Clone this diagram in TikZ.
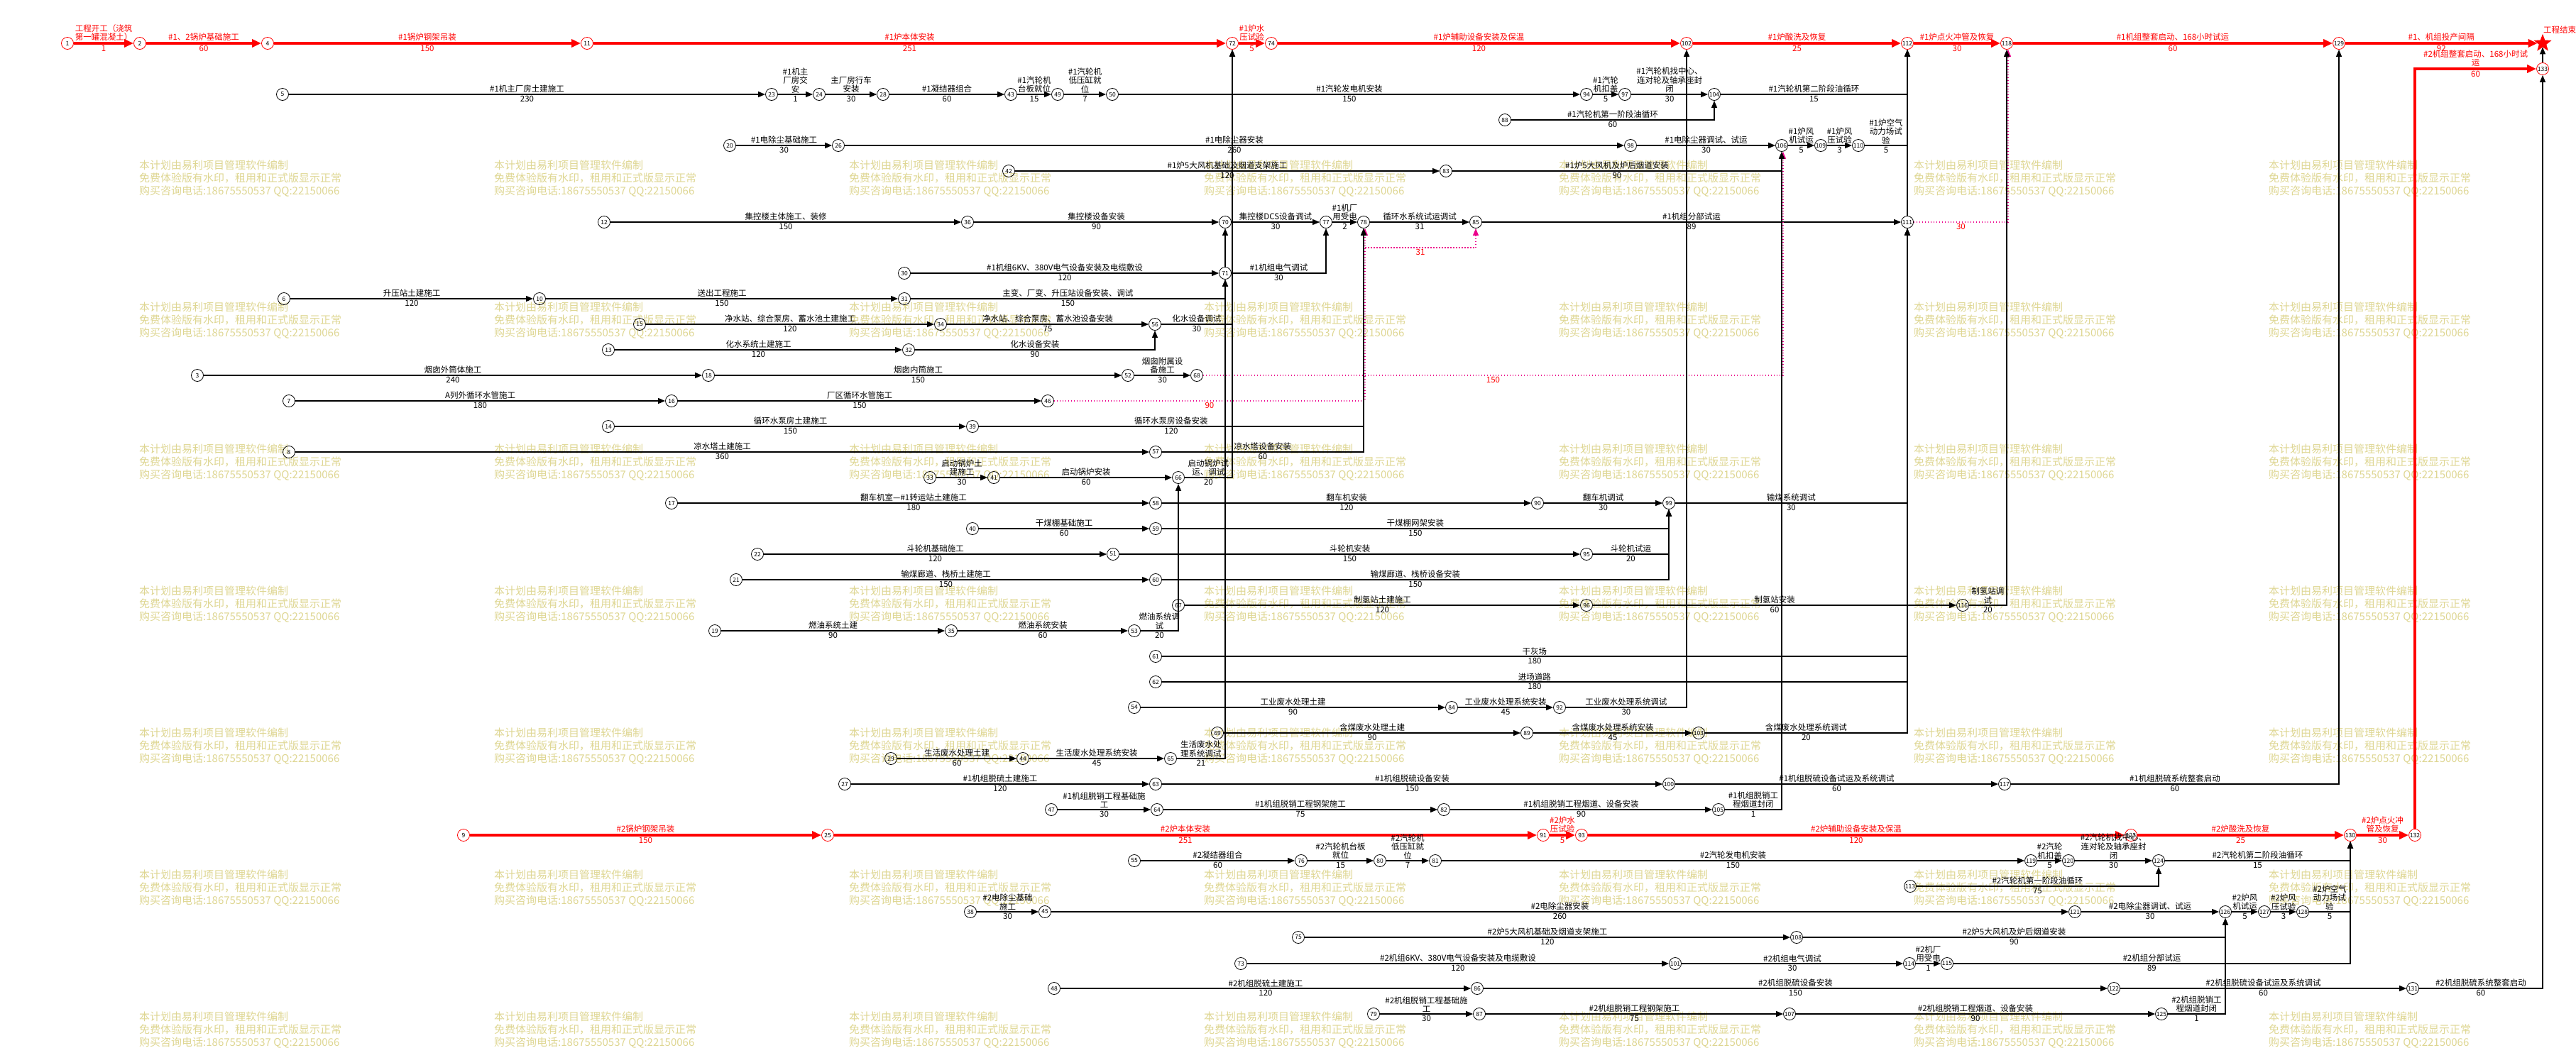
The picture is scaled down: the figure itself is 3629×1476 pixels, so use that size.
\documentclass[tikz,border=0pt]{standalone}
\usepackage{fontspec}
\setmainfont{Noto Sans CJK SC}
\usepackage{tikz}
\usetikzlibrary{arrows.meta,shapes.geometric}
\definecolor{wmark}{RGB}{222,214,146}
\newcommand\lblfont{\fontsize{11.5}{12.5}\selectfont}
\newcommand\numfont{\fontsize{8.5}{9}\selectfont}
\newcommand\wmfont{\fontsize{15}{18}\selectfont}

\begin{document}
\begin{tikzpicture}[x=1pt,y=-1pt]
	\useasboundingbox (0,0) rectangle (3629,1476);

	\foreach \wx in {196,696,...,3196}
	  \foreach \wy in {226,426,...,1426}
	    \node[anchor=north west,inner sep=0pt,align=left,text=wmark,font=\wmfont] (wm\wx-\wy) at (\wx,\wy)
	      {本计划由易利项目管理软件编制\\免费体验版有水印，租用和正式版显示正常\\购买咨询电话:18675550537 QQ:22150066};

	\begin{scope}[every node/.style={circle,draw,line width=.8pt,minimum size=17pt,inner sep=0pt,font=\numfont}]
	    \node[draw=red] (n1) at (95,61) {1};
	    \node[draw=red] (n2) at (197,61) {2};
	    \node[draw=red] (n4) at (377,61) {4};
	    \node[draw=red] (n11) at (827,61) {11};
	    \node[draw=red] (n72) at (1736,61) {72};
	    \node[draw=red] (n74) at (1791,61) {74};
	    \node[draw=red] (n102) at (2376,61) {102};
	    \node[draw=red] (n112) at (2687,61) {112};
	    \node[draw=red] (n118) at (2827,61) {118};
	    \node[draw=red] (n129) at (3295,61) {129};
	    \node[draw=red] (n133) at (3582,97) {133};
	    \node[star,star points=5,star point ratio=2.4,fill=red,draw=red,minimum size=24pt] (fin) at (3582,61) {};
	    \node[draw=red] (n9) at (653,1177) {9};
	    \node[draw=red] (n25) at (1166,1177) {25};
	    \node[draw=red] (n91) at (2174,1177) {91};
	    \node[draw=red] (n93) at (2228,1177) {93};
	    \node[draw=red] (n123) at (3002,1177) {123};
	    \node[draw=red] (n130) at (3311,1177) {130};
	    \node[draw=red] (n132) at (3402,1177) {132};
	    \node (n5) at (398,133) {5};
	    \node (n23) at (1087,133) {23};
	    \node (n24) at (1154,133) {24};
	    \node (n28) at (1244,133) {28};
	    \node (n43) at (1424,133) {43};
	    \node (n49) at (1490,133) {49};
	    \node (n50) at (1567,133) {50};
	    \node (n94) at (2235,133) {94};
	    \node (n97) at (2289,133) {97};
	    \node (n104) at (2415,133) {104};
	    \node (n88) at (2120,169) {88};
	    \node (n20) at (1028,205) {20};
	    \node (n26) at (1181,205) {26};
	    \node (n98) at (2297,205) {98};
	    \node (n106) at (2510,205) {106};
	    \node (n109) at (2565,205) {109};
	    \node (n110) at (2618,205) {110};
	    \node (n42) at (1421,241) {42};
	    \node (n83) at (2037,241) {83};
	    \node (n12) at (851,313) {12};
	    \node (n36) at (1363,313) {36};
	    \node (n70) at (1726,313) {70};
	    \node (n77) at (1868,313) {77};
	    \node (n78) at (1921,313) {78};
	    \node (n85) at (2079,313) {85};
	    \node (n111) at (2687,313) {111};
	    \node (n30) at (1274,385) {30};
	    \node (n71) at (1726,385) {71};
	    \node (n6) at (400,421) {6};
	    \node (n10) at (760,421) {10};
	    \node (n31) at (1274,421) {31};
	    \node (n15) at (901,457) {15};
	    \node (n34) at (1325,457) {34};
	    \node (n56) at (1627,457) {56};
	    \node (n13) at (857,493) {13};
	    \node (n32) at (1280,493) {32};
	    \node (n3) at (278,529) {3};
	    \node (n18) at (998,529) {18};
	    \node (n52) at (1589,529) {52};
	    \node (n68) at (1686,529) {68};
	    \node (n7) at (407,565) {7};
	    \node (n16) at (946,565) {16};
	    \node (n46) at (1476,565) {46};
	    \node (n14) at (857,601) {14};
	    \node (n39) at (1370,601) {39};
	    \node (n8) at (407,637) {8};
	    \node (n57) at (1628,637) {57};
	    \node (n33) at (1310,673) {33};
	    \node (n41) at (1400,673) {41};
	    \node (n66) at (1660,673) {66};
	    \node (n17) at (946,709) {17};
	    \node (n58) at (1628,709) {58};
	    \node (n90) at (2166,709) {90};
	    \node (n99) at (2351,709) {99};
	    \node (n40) at (1370,745) {40};
	    \node (n59) at (1628,745) {59};
	    \node (n22) at (1067,781) {22};
	    \node (n51) at (1568,781) {51};
	    \node (n95) at (2235,781) {95};
	    \node (n21) at (1037,817) {21};
	    \node (n60) at (1628,817) {60};
	    \node (n67) at (1660,853) {67};
	    \node (n96) at (2235,853) {96};
	    \node (n116) at (2765,853) {116};
	    \node (n19) at (1007,889) {19};
	    \node (n35) at (1340,889) {35};
	    \node (n53) at (1598,889) {53};
	    \node (n61) at (1628,925) {61};
	    \node (n62) at (1628,961) {62};
	    \node (n54) at (1598,997) {54};
	    \node (n84) at (2045,997) {84};
	    \node (n92) at (2197,997) {92};
	    \node (n69) at (1715,1033) {69};
	    \node (n89) at (2151,1033) {89};
	    \node (n103) at (2393,1033) {103};
	    \node (n29) at (1255,1069) {29};
	    \node (n44) at (1441,1069) {44};
	    \node (n65) at (1649,1069) {65};
	    \node (n27) at (1190,1105) {27};
	    \node (n63) at (1628,1105) {63};
	    \node (n100) at (2351,1105) {100};
	    \node (n117) at (2824,1105) {117};
	    \node (n47) at (1481,1141) {47};
	    \node (n64) at (1630,1141) {64};
	    \node (n82) at (2034,1141) {82};
	    \node (n105) at (2421,1141) {105};
	    \node (n55) at (1598,1213) {55};
	    \node (n76) at (1833,1213) {76};
	    \node (n80) at (1944,1213) {80};
	    \node (n81) at (2022,1213) {81};
	    \node (n119) at (2861,1213) {119};
	    \node (n120) at (2914,1213) {120};
	    \node (n124) at (3041,1213) {124};
	    \node (n113) at (2691,1249) {113};
	    \node (n38) at (1367,1285) {38};
	    \node (n45) at (1472,1285) {45};
	    \node (n121) at (2923,1285) {121};
	    \node (n126) at (3135,1285) {126};
	    \node (n127) at (3190,1285) {127};
	    \node (n128) at (3244,1285) {128};
	    \node (n75) at (1829,1321) {75};
	    \node (n108) at (2531,1321) {108};
	    \node (n73) at (1748,1358) {73};
	    \node (n101) at (2360,1358) {101};
	    \node (n114) at (2690,1358) {114};
	    \node (n115) at (2743,1358) {115};
	    \node (n48) at (1485,1393) {48};
	    \node (n86) at (2081,1393) {86};
	    \node (n122) at (2978,1393) {122};
	    \node (n131) at (3399,1393) {131};
	    \node (n79) at (1935,1429) {79};
	    \node (n87) at (2084,1429) {87};
	    \node (n107) at (2521,1429) {107};
	    \node (n125) at (3045,1429) {125};
	\end{scope}

	\node[anchor=west,red,font=\lblfont,inner sep=0pt] (finlbl) at (3583,42) {工程结束};
	\coordinate (d31) at (1923,349);

	\begin{scope}[>={Triangle[length=10pt,width=8pt]},
	              line width=1.2pt,
	              every node/.style={font=\lblfont,inner sep=1.5pt,align=center},
	              every edge/.style={draw=black},
	              crit/.style={red,line width=3.5pt,>={Triangle[length=13pt,width=11pt]}},
	              dummy/.style={magenta,dash pattern=on 1.5pt off 2.5pt}]
	    \path [->] (n1) edge[crit] node[above] {工程开工（浇筑\\第一罐混凝土）} node[below] {1} (n2);
	    \path [->] (n2) edge[crit] node[above] {\#1、2锅炉基础施工} node[below] {60} (n4);
	    \path [->] (n4) edge[crit] node[above] {\#1锅炉钢架吊装} node[below] {150} (n11);
	    \path [->] (n11) edge[crit] node[above] {\#1炉本体安装} node[below] {251} (n72);
	    \path [->] (n72) edge[crit] node[above] {\#1炉水\\压试验} node[below] {5} (n74);
	    \path [->] (n74) edge[crit] node[above] {\#1炉辅助设备安装及保温} node[below] {120} (n102);
	    \path [->] (n102) edge[crit] node[above] {\#1炉酸洗及恢复} node[below] {25} (n112);
	    \path [->] (n112) edge[crit] node[above] {\#1炉点火冲管及恢复} node[below] {30} (n118);
	    \path [->] (n118) edge[crit] node[above] {\#1机组整套启动、168小时试运} node[below] {60} (n129);
	    \path [->] (n129) edge[crit] node[above] {\#1、机组投产间隔} node[below] {92} (fin);
	    \path [->] (n9) edge[crit] node[above] {\#2锅炉钢架吊装} node[below] {150} (n25);
	    \path [->] (n25) edge[crit] node[above] {\#2炉本体安装} node[below] {251} (n91);
	    \path [->] (n91) edge[crit] node[above] {\#2炉水\\压试验} node[below] {5} (n93);
	    \path [->] (n93) edge[crit] node[above] {\#2炉辅助设备安装及保温} node[below] {120} (n123);
	    \path [->] (n123) edge[crit] node[above] {\#2炉酸洗及恢复} node[below] {25} (n130);
	    \path [->] (n130) edge[crit] node[above] {\#2炉点火冲\\管及恢复} node[below] {30} (n132);
	    \draw [->,crit] (n132) |- node[pos=.75,above] {\#2机组整套启动、168小时试\\运} node[pos=.75,below] {60} (n133);
	    \path [->] (n133) edge (fin);

	    \path [->] (n5) edge node[above] {\#1机主厂房土建施工} node[below] {230} (n23);
	    \path [->] (n23) edge node[above] {\#1机主\\厂房交\\安} node[below] {1} (n24);
	    \path [->] (n24) edge node[above] {主厂房行车\\安装} node[below] {30} (n28);
	    \path [->] (n28) edge node[above] {\#1凝结器组合} node[below] {60} (n43);
	    \path [->] (n43) edge node[above] {\#1汽轮机\\台板就位} node[below] {15} (n49);
	    \path [->] (n49) edge node[above] {\#1汽轮机\\低压缸就\\位} node[below] {7} (n50);
	    \path [->] (n50) edge node[above] {\#1汽轮发电机安装} node[below] {150} (n94);
	    \path [->] (n94) edge node[above] {\#1汽轮\\机扣盖} node[below] {5} (n97);
	    \path [->] (n97) edge node[above] {\#1汽轮机找中心、\\连对轮及轴承座封\\闭} node[below] {30} (n104);
	    \draw [->] (n104) -| node[pos=.25,above] {\#1汽轮机第二阶段油循环} node[pos=.25,below] {15} (n112);
	    \draw [->] (n88) -| node[pos=.25,above] {\#1汽轮机第一阶段油循环} node[pos=.25,below] {60} (n104);
	    \path [->] (n20) edge node[above] {\#1电除尘基础施工} node[below] {30} (n26);
	    \path [->] (n26) edge node[above] {\#1电除尘器安装} node[below] {260} (n98);
	    \path [->] (n98) edge node[above] {\#1电除尘器调试、试运} node[below] {30} (n106);
	    \path [->] (n106) edge node[above] {\#1炉风\\机试运} node[below] {5} (n109);
	    \path [->] (n109) edge node[above] {\#1炉风\\压试验} node[below] {3} (n110);
	    \draw [->] (n110) -| node[pos=.25,above] {\#1炉空气\\动力场试\\验} node[pos=.25,below] {5} (n112);
	    \path [->] (n42) edge node[above] {\#1炉5大风机基础及烟道支架施工} node[below] {120} (n83);
	    \draw [->] (n83) -| node[pos=.25,above] {\#1炉5大风机及炉后烟道安装} node[pos=.25,below] {90} (n106);
	    \path [->] (n12) edge node[above] {集控楼主体施工、装修} node[below] {150} (n36);
	    \path [->] (n36) edge node[above] {集控楼设备安装} node[below] {90} (n70);
	    \path [->] (n70) edge node[above] {集控楼DCS设备调试} node[below] {30} (n77);
	    \path [->] (n77) edge node[above] {\#1机厂\\用受电} node[below] {2} (n78);
	    \path [->] (n78) edge node[above] {循环水系统试运调试} node[below] {31} (n85);
	    \path [->] (n85) edge node[above] {\#1机组分部试运} node[below] {89} (n111);
	    \path [->] (n111) edge (n112);
	    \draw [->,dummy] (n111) -| node[pos=.25,below,red] {30} ([xshift=2pt]n118.south);
	    \draw [->,dummy] (d31) -| node[pos=.25,below,red] {31} (n85);
	    \path [->] (n30) edge node[above] {\#1机组6KV、380V电气设备安装及电缆敷设} node[below] {120} (n71);
	    \draw [->] (n71) -| node[pos=.25,above] {\#1机组电气调试} node[pos=.25,below] {30} (n77);
	    \path [->] (n71) edge (n70);
	    \path [->] (n6) edge node[above] {升压站土建施工} node[below] {120} (n10);
	    \path [->] (n10) edge node[above] {送出工程施工} node[below] {150} (n31);
	    \draw [->] (n31) -| node[pos=.25,above] {主变、厂变、升压站设备安装、调试} node[pos=.25,below] {150} (n71);
	    \path [->] (n15) edge node[above] {净水站、综合泵房、蓄水池土建施工} node[below] {120} (n34);
	    \path [->] (n34) edge node[above] {净水站、综合泵房、蓄水池设备安装} node[below] {75} (n56);
	    \draw [->] (n56) -| node[pos=.25,above] {化水设备调试} node[pos=.25,below] {30} (n72);
	    \path [->] (n13) edge node[above] {化水系统土建施工} node[below] {120} (n32);
	    \draw [->] (n32) -| node[pos=.25,above] {化水设备安装} node[pos=.25,below] {90} (n56);
	    \path [->] (n3) edge node[above] {烟囱外筒体施工} node[below] {240} (n18);
	    \path [->] (n18) edge node[above] {烟囱内筒施工} node[below] {150} (n52);
	    \path [->] (n52) edge node[above] {烟囱附属设\\备施工} node[below] {30} (n68);
	    \draw [->,dummy] (n68) -| node[pos=.25,below,red] {150} ([xshift=2pt]n106.south);
	    \path [->] (n7) edge node[above] {A列外循环水管施工} node[below] {180} (n16);
	    \path [->] (n16) edge node[above] {厂区循环水管施工} node[below] {150} (n46);
	    \draw [->,dummy] (n46) -| node[pos=.25,below,red] {90} ([xshift=2pt]n78.south);
	    \path [->] (n14) edge node[above] {循环水泵房土建施工} node[below] {150} (n39);
	    \draw [->] (n39) -| node[pos=.25,above] {循环水泵房设备安装} node[pos=.25,below] {120} (n78);
	    \path [->] (n8) edge node[above] {凉水塔土建施工} node[below] {360} (n57);
	    \draw [->] (n57) -| node[pos=.25,above] {凉水塔设备安装} node[pos=.25,below] {60} (n78);
	    \path [->] (n33) edge node[above] {启动锅炉土\\建施工} node[below] {30} (n41);
	    \path [->] (n41) edge node[above] {启动锅炉安装} node[below] {60} (n66);
	    \draw [->] (n66) -| node[pos=.25,above] {启动锅炉试\\运、调试} node[pos=.25,below] {20} (n72);
	    \path [->] (n17) edge node[above] {翻车机室—\#1转运站土建施工} node[below] {180} (n58);
	    \path [->] (n58) edge node[above] {翻车机安装} node[below] {120} (n90);
	    \path [->] (n90) edge node[above] {翻车机调试} node[below] {30} (n99);
	    \draw [->] (n99) -| node[pos=.25,above] {输煤系统调试} node[pos=.25,below] {30} (n111);
	    \path [->] (n40) edge node[above] {干煤棚基础施工} node[below] {60} (n59);
	    \draw [->] (n59) -| node[pos=.25,above] {干煤棚网架安装} node[pos=.25,below] {150} (n99);
	    \path [->] (n22) edge node[above] {斗轮机基础施工} node[below] {120} (n51);
	    \path [->] (n51) edge node[above] {斗轮机安装} node[below] {150} (n95);
	    \draw [->] (n95) -| node[pos=.25,above] {斗轮机试运} node[pos=.25,below] {20} (n99);
	    \path [->] (n21) edge node[above] {输煤廊道、栈桥土建施工} node[below] {150} (n60);
	    \draw [->] (n60) -| node[pos=.25,above] {输煤廊道、栈桥设备安装} node[pos=.25,below] {150} (n99);
	    \path [->] (n67) edge node[above] {制氢站土建施工} node[below] {120} (n96);
	    \path [->] (n96) edge node[above] {制氢站安装} node[below] {60} (n116);
	    \draw [->] (n116) -| node[pos=.25,above] {制氢站调\\试} node[pos=.25,below] {20} (n118);
	    \path [->] (n19) edge node[above] {燃油系统土建} node[below] {90} (n35);
	    \path [->] (n35) edge node[above] {燃油系统安装} node[below] {60} (n53);
	    \draw [->] (n53) -| node[pos=.25,above] {燃油系统调\\试} node[pos=.25,below] {20} (n66);
	    \draw [->] (n61) -| node[pos=.25,above] {干灰场} node[pos=.25,below] {180} (n111);
	    \draw [->] (n62) -| node[pos=.25,above] {进场道路} node[pos=.25,below] {180} (n111);
	    \path [->] (n54) edge node[above] {工业废水处理土建} node[below] {90} (n84);
	    \path [->] (n84) edge node[above] {工业废水处理系统安装} node[below] {45} (n92);
	    \draw [->] (n92) -| node[pos=.25,above] {工业废水处理系统调试} node[pos=.25,below] {30} (n102);
	    \path [->] (n69) edge node[above] {含煤废水处理土建} node[below] {90} (n89);
	    \path [->] (n89) edge node[above] {含煤废水处理系统安装} node[below] {45} (n103);
	    \draw [->] (n103) -| node[pos=.25,above] {含煤废水处理系统调试} node[pos=.25,below] {20} (n111);
	    \path [->] (n29) edge node[above] {生活废水处理土建} node[below] {60} (n44);
	    \path [->] (n44) edge node[above] {生活废水处理系统安装} node[below] {45} (n65);
	    \draw [->] (n65) -| node[pos=.25,above] {生活废水处\\理系统调试} node[pos=.25,below] {21} (n71);
	    \path [->] (n27) edge node[above] {\#1机组脱硫土建施工} node[below] {120} (n63);
	    \path [->] (n63) edge node[above] {\#1机组脱硫设备安装} node[below] {150} (n100);
	    \path [->] (n100) edge node[above] {\#1机组脱硫设备试运及系统调试} node[below] {60} (n117);
	    \draw [->] (n117) -| node[pos=.25,above] {\#1机组脱硫系统整套启动} node[pos=.25,below] {60} (n129);
	    \path [->] (n47) edge node[above] {\#1机组脱销工程基础施\\工} node[below] {30} (n64);
	    \path [->] (n64) edge node[above] {\#1机组脱销工程钢架施工} node[below] {75} (n82);
	    \path [->] (n82) edge node[above] {\#1机组脱销工程烟道、设备安装} node[below] {90} (n105);
	    \draw [->] (n105) -| node[pos=.25,above] {\#1机组脱销工\\程烟道封闭} node[pos=.25,below] {1} (n106);

	    \path [->] (n55) edge node[above] {\#2凝结器组合} node[below] {60} (n76);
	    \path [->] (n76) edge node[above] {\#2汽轮机台板\\就位} node[below] {15} (n80);
	    \path [->] (n80) edge node[above] {\#2汽轮机\\低压缸就\\位} node[below] {7} (n81);
	    \path [->] (n81) edge node[above] {\#2汽轮发电机安装} node[below] {150} (n119);
	    \path [->] (n119) edge node[above] {\#2汽轮\\机扣盖} node[below] {5} (n120);
	    \path [->] (n120) edge node[above] {\#2汽轮机找中心、\\连对轮及轴承座封\\闭} node[below] {30} (n124);
	    \draw [->] (n124) -| node[pos=.25,above] {\#2汽轮机第二阶段油循环} node[pos=.25,below] {15} (n130);
	    \draw [->] (n113) -| node[pos=.25,above] {\#2汽轮机第一阶段油循环} node[pos=.25,below] {75} (n124);
	    \path [->] (n38) edge node[above] {\#2电除尘基础\\施工} node[below] {30} (n45);
	    \path [->] (n45) edge node[above] {\#2电除尘器安装} node[below] {260} (n121);
	    \path [->] (n121) edge node[above] {\#2电除尘器调试、试运} node[below] {30} (n126);
	    \path [->] (n126) edge node[above] {\#2炉风\\机试运} node[below] {5} (n127);
	    \path [->] (n127) edge node[above] {\#2炉风\\压试验} node[below] {3} (n128);
	    \draw [->] (n128) -| node[pos=.25,above] {\#2炉空气\\动力场试\\验} node[pos=.25,below] {5} (n130);
	    \path [->] (n75) edge node[above] {\#2炉5大风机基础及烟道支架施工} node[below] {120} (n108);
	    \draw [->] (n108) -| node[pos=.25,above] {\#2炉5大风机及炉后烟道安装} node[pos=.25,below] {90} (n126);
	    \path [->] (n73) edge node[above] {\#2机组6KV、380V电气设备安装及电缆敷设} node[below] {120} (n101);
	    \path [->] (n101) edge node[above] {\#2机组电气调试} node[below] {30} (n114);
	    \path [->] (n114) edge node[above] {\#2机厂\\用受电} node[below] {1} (n115);
	    \draw [->] (n115) -| node[pos=.25,above] {\#2机组分部试运} node[pos=.25,below] {89} (n130);
	    \path [->] (n48) edge node[above] {\#2机组脱硫土建施工} node[below] {120} (n86);
	    \path [->] (n86) edge node[above] {\#2机组脱硫设备安装} node[below] {150} (n122);
	    \path [->] (n122) edge node[above] {\#2机组脱硫设备试运及系统调试} node[below] {60} (n131);
	    \draw [->] (n131) -| node[pos=.25,above] {\#2机组脱硫系统整套启动} node[pos=.25,below] {60} (n133);
	    \path [->] (n79) edge node[above] {\#2机组脱销工程基础施\\工} node[below] {30} (n87);
	    \path [->] (n87) edge node[above] {\#2机组脱销工程钢架施工} node[below] {75} (n107);
	    \path [->] (n107) edge node[above] {\#2机组脱销工程烟道、设备安装} node[below] {90} (n125);
	    \draw [->] (n125) -| node[pos=.25,above] {\#2机组脱销工\\程烟道封闭} node[pos=.25,below] {1} (n126);
	\end{scope}
\end{tikzpicture}
\end{document}
